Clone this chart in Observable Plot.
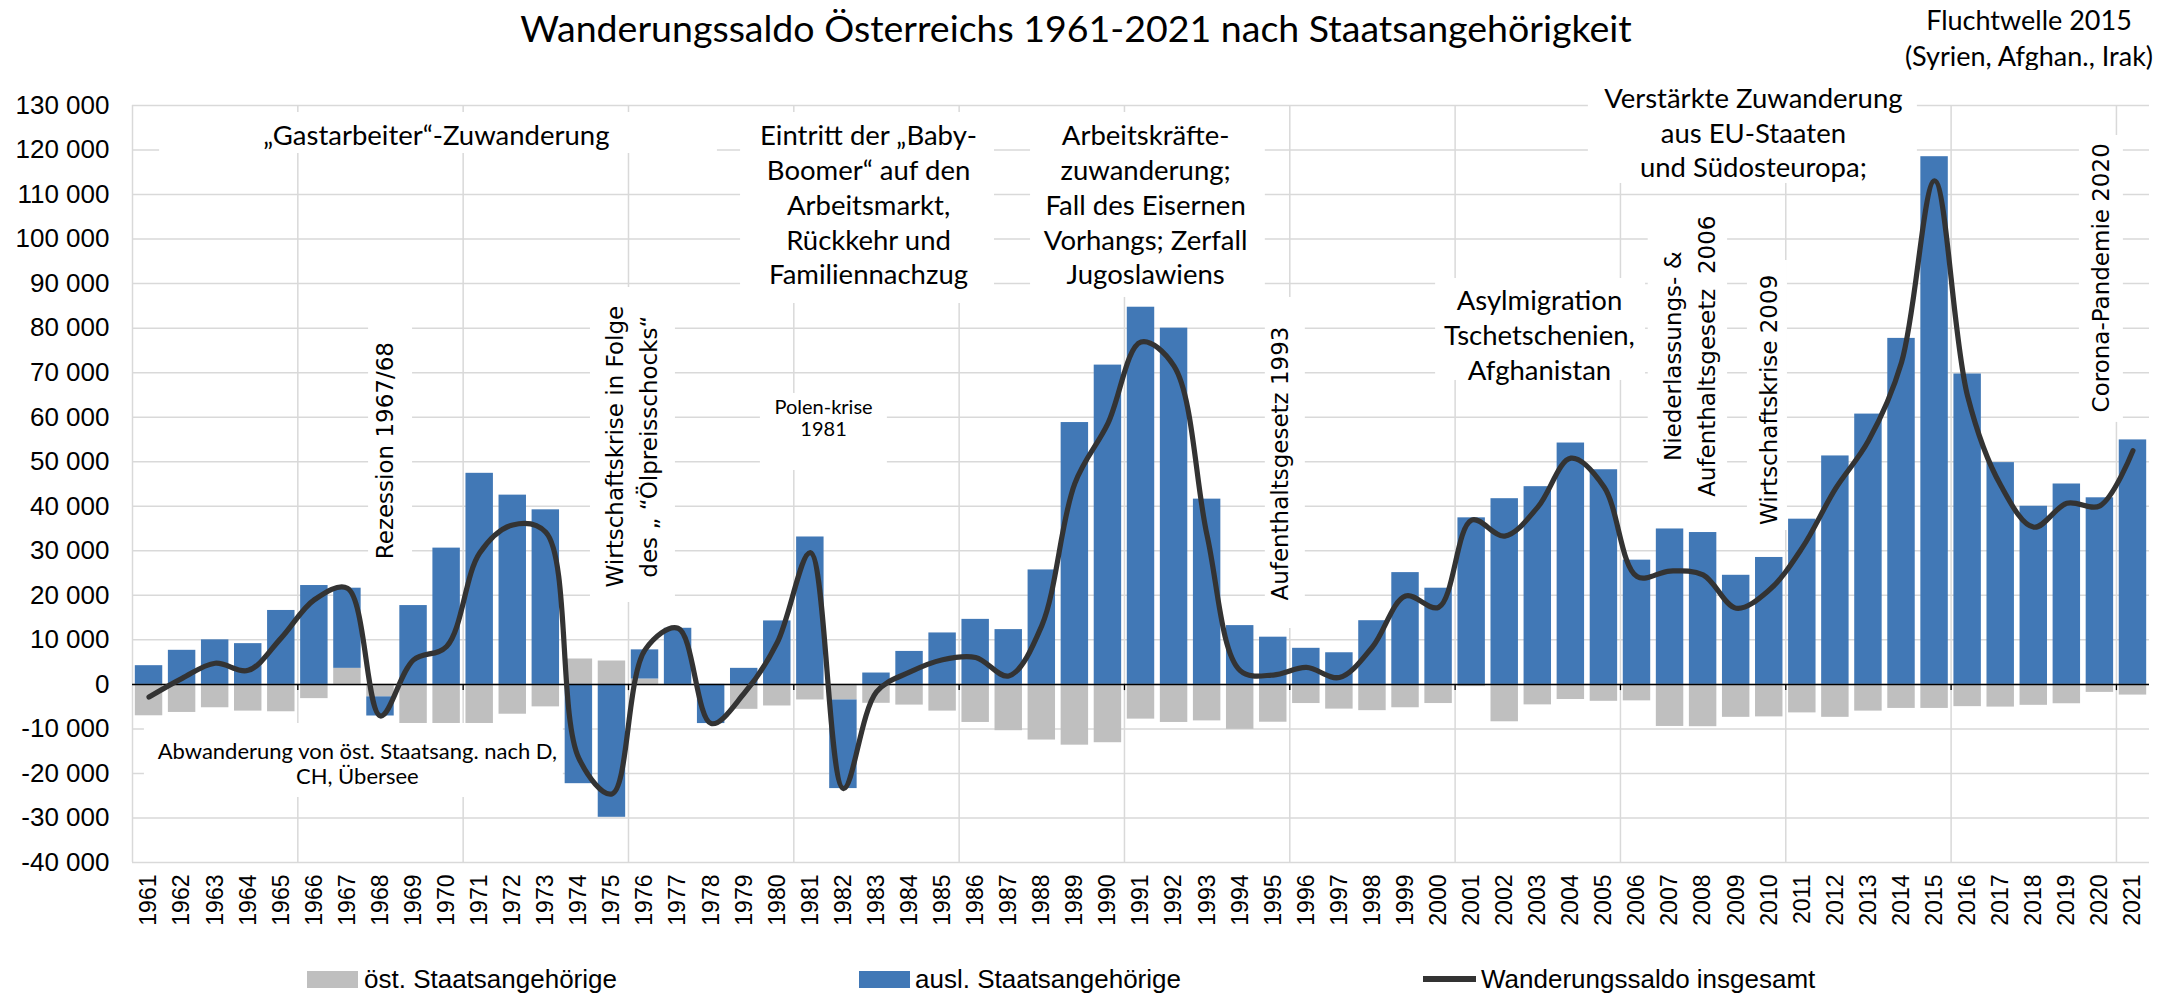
<!DOCTYPE html>
<html>
<head>
<meta charset="utf-8">
<script src="https://cdn.jsdelivr.net/npm/d3@7"></script>
<script src="https://cdn.jsdelivr.net/npm/@observablehq/plot@0.6"></script>
<style>
  body { margin: 0; background: #fff; }
  #wrap { position: relative; width: 2177px; height: 998px; overflow: hidden; background: #fff; font-family: "Liberation Sans", Arial, sans-serif; }
  #title { position: absolute; left: 0; top: 0; width: 2152px; text-align: center; font-family: Lato, sans-serif; font-size: 37.5px; line-height: 56px; color: #000; }
  #flucht { position: absolute; left: 1879px; top: 2px; width: 300px; text-align: center; font-family: Lato, sans-serif; font-size: 27px; line-height: 36px; color: #000; }
  #chart { position: absolute; left: 0; top: 70px; }
  .lg { position: absolute; }
  .lgt { position: absolute; top: 964px; font-size: 26px; line-height: 30px; color: #000; white-space: nowrap; }
</style>
</head>
<body>
<div id="wrap">
  <div id="title">Wanderungssaldo Österreichs 1961-2021 nach Staatsangehörigkeit</div>
  <div id="flucht">Fluchtwelle 2015<br>(Syrien, Afghan., Irak)</div>
  <div id="chart"></div>
  <div class="lg" style="left:307px;top:971px;width:51px;height:17px;background:#bfbfbf"></div>
  <div class="lgt" style="left:364px">öst. Staatsangehörige</div>
  <div class="lg" style="left:859px;top:971px;width:51px;height:17px;background:#4178b6"></div>
  <div class="lgt" style="left:915px">ausl. Staatsangehörige</div>
  <div class="lg" style="left:1423px;top:976px;width:53px;height:6px;background:#333333"></div>
  <div class="lgt" style="left:1481px">Wanderungssaldo insgesamt</div>
</div>
<script>
// ---- data ----
const years = [1961,1962,1963,1964,1965,1966,1967,1968,1969,1970,
  1971,1972,1973,1974,1975,1976,1977,1978,1979,1980,
  1981,1982,1983,1984,1985,1986,1987,1988,1989,1990,
  1991,1992,1993,1994,1995,1996,1997,1998,1999,2000,
  2001,2002,2003,2004,2005,2006,2007,2008,2009,2010,
  2011,2012,2013,2014,2015,2016,2017,2018,2019,2020,2021];

// ausl. Staatsangehörige
const auslaender = [4200,7650,10000,9150,16600,22200,18000,-4300,17700,30600,
  47400,42500,39200,-22300,-29850,6550,12600,-8800,3600,14250,
  33100,-19900,2550,7400,11550,14600,12300,25700,58800,71700,
  84700,80000,41600,13200,10600,8100,7100,14300,25100,21600,
  37400,41700,44400,54200,48200,27900,34900,34100,24500,28500,
  37100,51300,60700,77700,118500,69700,49800,40000,45000,41900,54900];

// öst. Staatsangehörige
const oesterreicher = [-7050,-6300,-5250,-6000,-6150,-3200,3600,-2800,-12200,-22100,
  -17900,-6700,-5050,5700,5250,1200,0,0,-5600,-4850,
  -3500,-3500,-4250,-4650,-6000,-8550,-10400,-12500,-13650,-13100,
  -7800,-8550,-8200,-10100,-8500,-4300,-5550,-5900,-5250,-4300,
  -500,-8400,-4600,-3400,-3800,-3700,-9450,-9500,-7400,-7300,
  -6400,-7400,-6000,-5400,-5400,-5000,-5100,-4700,-4350,-1800,-2400];

const seriesNames = ["öst. Staatsangehörige", "ausl. Staatsangehörige"];
const yTicks = [-40000,-30000,-20000,-10000,0,10000,20000,30000,40000,50000,60000,70000,80000,90000,100000,110000,120000,130000];
const gridYears = [1960.5,1965.5,1970.5,1975.5,1980.5,1985.5,1990.5,1995.5,2000.5,2005.5,2010.5,2015.5,2020.5];

// annotations (position in year / value units)
const notesLarge = [
  {text: "„Gastarbeiter“-Zuwanderung", x: 1969.69, y: 123700},
  {text: "Eintritt der „Baby-\nBoomer“ auf den\nArbeitsmarkt,\nRückkehr und\nFamiliennachzug", x: 1982.76, y: 108000},
  {text: "Arbeitskräfte-\nzuwanderung;\nFall des Eisernen\nVorhangs; Zerfall\nJugoslawiens", x: 1991.14, y: 108000},
  {text: "Asylmigration\nTschetschenien,\nAfghanistan", x: 2003.05, y: 78800},
  {text: "Verstärkte Zuwanderung\naus EU-Staaten\nund Südosteuropa;", x: 2009.52, y: 124200}
];
const notesSmall = [
  {text: "Polen-krise\n1981", x: 1981.4, y: 59900, size: 20},
  {text: "Abwanderung von öst. Staatsang. nach D,\nCH, Übersee", x: 1967.3, y: -17760, size: 22}
];
const notesRotated = [
  {text: "Rezession 1967/68", x: 1968.06, y: 52500},
  {text: "Wirtschaftskrise in Folge\ndes „ “Ölpreisschocks“", x: 1975.52, y: 53400},
  {text: "Aufenthaltsgesetz 1993", x: 1995.13, y: 49600},
  {text: "Niederlassungs- &\nAufenthaltsgesetz  2006", x: 2007.51, y: 73700},
  {text: "Wirtschaftskrise 2009", x: 2009.89, y: 63900},
  {text: "Corona-Pandemie 2020", x: 2019.94, y: 91300}
];
// white text-box backgrounds (year / value units)
const noteBoxes = [
  {x1: 1961.32, x2: 1978.19, y1: 128430, y2: 119220},
  {x1: 1978.89, x2: 1986.57, y1: 128430, y2: 85540},
  {x1: 1987.66, x2: 1994.76, y1: 128430, y2: 86890},
  {x1: 1999.91, x2: 2006.26, y1: 91150, y2: 68250},
  {x1: 1979.49, x2: 1983.33, y1: 65330, y2: 48030},
  {x1: 1960.86, x2: 1973.53, y1: -8780, y2: -25400},
  {x1: 2004.53, x2: 2014.48, y1: 135620, y2: 112490},
  {x1: 1967.64, x2: 1968.97, y1: 81720, y2: 24450},
  {x1: 1974.35, x2: 1976.92, y1: 89130, y2: 18390},
  {x1: 1994.76, x2: 1995.97, y1: 86890, y2: 12550},
  {x1: 2006.34, x2: 2008.74, y1: 108670, y2: 41300},
  {x1: 2009.34, x2: 2010.55, y1: 95190, y2: 34560},
  {x1: 2019.38, x2: 2020.71, y1: 123260, y2: 58830}
];

// ---- tables ----
const rows = [
  ...years.map((year, i) => ({year, series: seriesNames[0], value: oesterreicher[i]})),
  ...years.map((year, i) => ({year, series: seriesNames[1], value: auslaender[i]}))
];
const totals = years.map((year, i) => ({year, value: oesterreicher[i] + auslaender[i]}));

const fmt = d => (d < 0 ? "-" : "") + String(Math.abs(d)).replace(/\B(?=(\d{3})+(?!\d))/g, " ");
const calibri = "Lato, 'Open Sans', sans-serif";
const verdana = "'DejaVu Sans', Verdana, sans-serif";

const chart = Plot.plot({
  width: 2177,
  height: 862,
  marginTop: 35,
  marginBottom: 70,
  marginLeft: 132,
  marginRight: 28,
  style: {fontFamily: "'Liberation Sans', Arial, sans-serif", fontSize: "26px", background: "white", color: "black", overflow: "visible"},
  x: {domain: [1960.5, 2021.5], ticks: years, tickFormat: d => String(d), tickRotate: -90, tickSize: 0, tickPadding: 12, label: null},
  y: {domain: [-40000, 130000], ticks: yTicks, tickFormat: fmt, tickSize: 0, tickPadding: 23, label: null},
  color: {domain: seriesNames, range: ["#bfbfbf", "#4178b6"]},
  marks: [
    Plot.ruleY(yTicks, {stroke: "#d9d9d9", strokeWidth: 1.5}),
    Plot.ruleX(gridYears, {stroke: "#d9d9d9", strokeWidth: 1.5}),
    Plot.rectY(rows, {x1: d => d.year - 0.415, x2: d => d.year + 0.415, y: "value", fill: "series"}),
    Plot.rect(noteBoxes, {x1: "x1", x2: "x2", y1: "y1", y2: "y2", fill: "white"}),
    Plot.ruleY([0], {stroke: "black", strokeWidth: 1.5}),
    Plot.ruleX(gridYears.slice(1), {y1: 0, y2: -1400, stroke: "black", strokeWidth: 1.3}),
    Plot.line(totals, {x: "year", y: "value", stroke: "#333333", strokeWidth: 5.2, curve: "catmull-rom"}),
    Plot.text(notesLarge, {x: "x", y: "y", text: "text", fontFamily: calibri, fontSize: 27.5, lineHeight: 1.27, fill: "black"}),
    Plot.text(notesSmall, {x: "x", y: "y", text: "text", fontFamily: calibri, fontSize: d => d.size, lineHeight: 1.12, fill: "black"}),
    Plot.text(notesRotated, {x: "x", y: "y", text: "text", fontFamily: verdana, fontSize: 23, lineHeight: 1.48, rotate: -90, fill: "black"})
  ]
});
const svg = d3.select(chart);
svg.selectAll('[aria-label^="x-axis"] text').attr("font-size", 23).style("font-size", "23px");
document.getElementById("chart").appendChild(chart);
</script>
</body>
</html>
